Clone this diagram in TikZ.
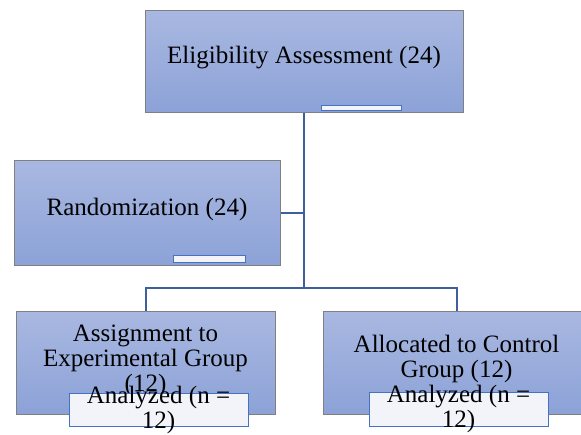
\documentclass[tikz,border=0pt]{standalone}
\usepackage{fontspec}
\setmainfont{Liberation Serif}
\usetikzlibrary{shapes}
\definecolor{boxtop}{HTML}{A9B8E1}
\definecolor{boxbot}{HTML}{8CA2D7}
\definecolor{boxline}{HTML}{808080}
\definecolor{linkblue}{HTML}{3F5E9E}
\definecolor{tabfill}{HTML}{F2F4FA}
\definecolor{tabline}{HTML}{4472C4}
\tikzstyle{box} = [rectangle, minimum height=103pt, inner sep=0pt, text depth=12pt, text centered, align=center, draw=boxline, line width=1pt, top color=boxtop, bottom color=boxbot, font=\fontsize{25}{25}\selectfont]
\tikzstyle{tab} = [rectangle, inner sep=0pt, draw=tabline, line width=1pt, fill=tabfill]
\tikzstyle{tabtext} = [align=center, font=\fontsize{25}{25}\selectfont]
\tikzstyle{link} = [linkblue, line width=2pt]

\begin{document}
\begin{tikzpicture}[x=1pt, y=-1pt]
\useasboundingbox (0, 0) rectangle (581, 434);

\node at (304, 61) (elig) [box, minimum width=318pt, minimum height=102pt] {Eligibility Assessment (24)};
\node at (147, 212.5) (random) [box, minimum width=266pt, minimum height=105pt] {Randomization (24)};
\node at (145.5, 362.5) (expgroup) [box, minimum width=259pt, text depth=8pt] {Assignment to\\Experimental Group\\(12)};
\node at (456.5, 362.5) (ctrlgroup) [box, minimum width=267pt] {Allocated to Control\\Group (12)};

\node at (361.7, 108.3) (eligtab) [tab, minimum width=80pt, minimum height=5pt] {};
\node at (209, 258.7) (randomtab) [tab, minimum width=72pt, minimum height=7pt] {};
\node at (158.5, 409.5) (exptab) [tab, minimum width=179pt, minimum height=33pt, label={[tabtext]center:Analyzed (n =\\12)}] {};
\node at (458.5, 409) (ctrltab) [tab, minimum width=179pt, minimum height=34pt, label={[tabtext]center:Analyzed (n =\\12)}] {};

\coordinate (split) at (304, 288);
\draw [link] (elig) -- (split);
\draw [link] (split) -| (expgroup);
\draw [link] (split) -| (ctrlgroup);
\draw [link] (random) -- (random -| split);

\end{tikzpicture}
\end{document}
